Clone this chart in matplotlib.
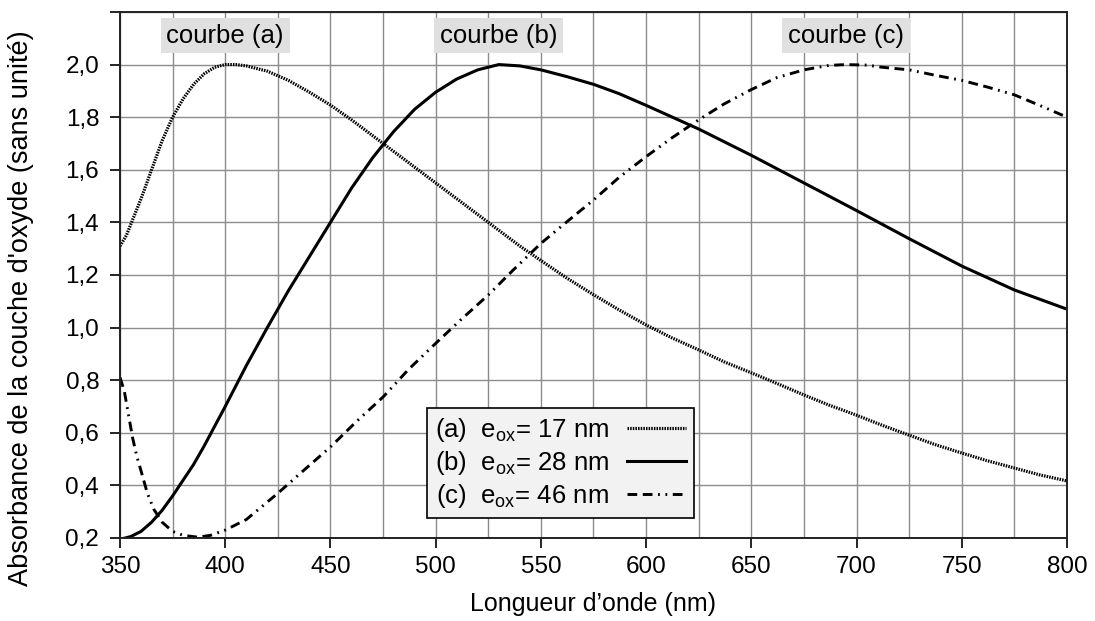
import matplotlib
matplotlib.use('Agg')
import matplotlib.pyplot as plt
from matplotlib.ticker import MultipleLocator, FuncFormatter
from matplotlib.lines import Line2D

plt.rcParams['font.family'] = ['Liberation Sans', 'DejaVu Sans']
plt.rcParams['mathtext.fontset'] = 'custom'
plt.rcParams['mathtext.rm'] = 'Liberation Sans'
plt.rcParams['lines.scale_dashes'] = False

# courbe (a) : e_ox = 17 nm
xa = [350, 353, 356, 360, 365, 370, 375, 380, 385, 390, 395, 400, 405, 410,
      420, 430, 440, 450, 460, 470, 480, 490, 500, 510, 520, 530, 540, 550,
      562, 575, 587, 600, 612, 625, 637, 650, 662, 675, 687, 700, 712, 725,
      737, 750, 762, 775, 787, 800]
ya = [1.31, 1.35, 1.41, 1.49, 1.60, 1.71, 1.80, 1.87, 1.925, 1.965, 1.99, 2.00,
      2.00, 1.995, 1.975, 1.94, 1.895, 1.846, 1.79, 1.73, 1.67, 1.61, 1.55,
      1.49, 1.43, 1.37, 1.31, 1.255, 1.19, 1.125, 1.068, 1.01, 0.962, 0.915,
      0.87, 0.828, 0.788, 0.744, 0.705, 0.667, 0.629, 0.591, 0.556, 0.523,
      0.494, 0.466, 0.44, 0.417]

# courbe (b) : e_ox = 28 nm
xb = [350, 355, 360, 365, 370, 375, 380, 385, 390, 395, 400, 410, 420, 430,
      440, 450, 460, 470, 480, 490, 500, 510, 520, 530, 540, 550, 562, 575,
      587, 600, 625, 650, 675, 700, 725, 750, 775, 800]
yb = [0.195, 0.205, 0.225, 0.26, 0.305, 0.36, 0.42, 0.48, 0.55, 0.625, 0.70,
      0.855, 1.00, 1.14, 1.27, 1.40, 1.53, 1.645, 1.745, 1.83, 1.895, 1.945,
      1.98, 2.00, 1.995, 1.98, 1.955, 1.925, 1.89, 1.845, 1.755, 1.655, 1.55,
      1.445, 1.338, 1.234, 1.143, 1.07]

# courbe (c) : e_ox = 46 nm
xc = [350, 352, 354, 356, 358, 360, 363, 366, 370, 375, 380, 387, 393, 400,
      410, 425, 437, 450, 462, 475, 487, 500, 512, 525, 537, 550, 562, 575,
      587, 600, 612, 625, 637, 650, 662, 675, 687, 695, 705, 712, 725, 737,
      750, 762, 775, 787, 800]
yc = [0.81, 0.76, 0.67, 0.58, 0.51, 0.455, 0.37, 0.31, 0.26, 0.225, 0.21,
      0.203, 0.21, 0.23, 0.27, 0.37, 0.455, 0.546, 0.64, 0.736, 0.84, 0.94,
      1.03, 1.124, 1.22, 1.32, 1.40, 1.485, 1.57, 1.65, 1.72, 1.79, 1.85,
      1.905, 1.95, 1.98, 1.997, 2.00, 1.998, 1.99, 1.98, 1.96, 1.94, 1.915,
      1.885, 1.845, 1.80]

labels = [r'(a)  e$_{\mathregular{ox}}$= 17 nm',
          r'(b)  e$_{\mathregular{ox}}$= 28 nm',
          r'(c)  e$_{\mathregular{ox}}$= 46 nm']
courbes = ['courbe (a)', 'courbe (b)', 'courbe (c)']
courbe_x = [400, 530, 695]

style_a = dict(color='black', lw=2.3, linestyle=(0, (1.1, 0.8)))
style_b = dict(color='black', lw=2.2, linestyle='-')
style_c = dict(color='black', lw=2.1, linestyle=(0, (7, 4, 7, 4, 1.3, 4, 1.3, 4)))

fig = plt.figure(figsize=(10.95, 6.21), dpi=100)
ax = fig.add_axes([0.1096, 0.1337, 0.8648, 0.847])

ax.plot(xa, ya, **style_a)
ax.plot(xb, yb, **style_b)
ax.plot(xc, yc, **style_c)

ax.set_xlim(350, 800)
ax.set_ylim(0.2, 2.2)
ax.xaxis.set_major_locator(MultipleLocator(50))
ax.xaxis.set_minor_locator(MultipleLocator(25))
ax.set_yticks([0.2, 0.4, 0.6, 0.8, 1.0, 1.2, 1.4, 1.6, 1.8, 2.0, 2.2])
ax.yaxis.set_major_formatter(FuncFormatter(
    lambda v, p: '' if v > 2.1 else ('%.1f' % v).replace('.', ',')))
ax.grid(which='both', color='#8c8c8c', lw=1.0)
ax.set_axisbelow(True)
ax.tick_params(axis='both', which='major', labelsize=17.5, direction='out',
               length=7, width=1.2, color='black')
ax.tick_params(axis='x', which='minor', length=0)
ax.tick_params(axis='y', which='major', pad=8)
ax.tick_params(axis='x', which='major', pad=6)
for s in ax.spines.values():
    s.set_color('#222222')
    s.set_linewidth(1.4)

ax.set_xlabel('Longueur d’onde (nm)', fontsize=18, labelpad=10)
ax.set_ylabel("Absorbance de la couche d'oxyde (sans unité)", fontsize=19.5)
ax.yaxis.set_label_coords(-0.091, 0.437)

for t, x in zip(courbes, courbe_x):
    ax.text(x, 2.11, t, fontsize=18.5, ha='center', va='center',
            bbox=dict(facecolor='#e0e0e0', edgecolor='none', pad=4))

handles = [Line2D([], [], **style_a), Line2D([], [], **style_b),
           Line2D([], [], **style_c)]
leg = ax.legend(handles, labels, loc='lower left', bbox_to_anchor=(0.324, 0.038),
                fontsize=18.5, markerfirst=False, frameon=True, fancybox=False,
                framealpha=1, facecolor='#f2f2f2', edgecolor='black',
                handlelength=2.3, labelspacing=0.2, borderpad=0.3,
                handletextpad=0.7, borderaxespad=0)
leg.get_frame().set_linewidth(1.2)

fig.savefig('out.png', dpi=100)
